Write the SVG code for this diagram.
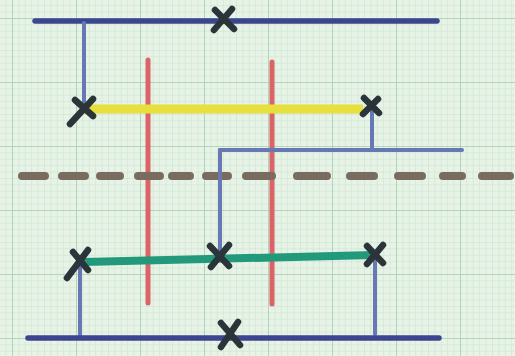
<svg xmlns="http://www.w3.org/2000/svg" width="515" height="356" viewBox="0 0 515 356">
<defs>
<pattern id="minor" patternUnits="userSpaceOnUse" x="12" y="18" width="6.4" height="6.4">
<path d="M0 0H6.4M0 0V6.4" fill="none" stroke="#c8e0ca" stroke-width="1"/>
</pattern>
<pattern id="major" patternUnits="userSpaceOnUse" x="12" y="18" width="64" height="64">
<path d="M0 0H64M0 0V64" fill="none" stroke="#a6d0b0" stroke-width="1.6"/>
</pattern>
</defs>
<style>
.bl{stroke:#3c4690;stroke-width:5.5;stroke-linecap:round;fill:none}
.bv{stroke:#6878b4;stroke-width:4;stroke-linecap:round;fill:none}
.red{stroke:#dc6468;stroke-width:5;stroke-linecap:round;fill:none}
.dash{stroke:#7a6b5f;stroke-width:8;stroke-linecap:round;fill:none}
.x{stroke:#2b3438;stroke-width:6.5;stroke-linecap:round;fill:none}
</style>
<rect width="515" height="356" fill="#e6f3e6"/>
<rect width="515" height="356" fill="url(#minor)"/>
<rect width="515" height="356" fill="url(#major)"/>
<g id="connectors">
<path class="red" d="M148 60V303"/>
<path class="red" d="M272 62V304"/>
<path class="dash" d="M22 176H45M62 176H85M100 176H120M138 176H160M172 176H190M206 176H228M246 176H272M297 176H327M350 176H374M398 176H422M443 176H462M482 176H510"/>
<path class="bl" d="M35 21H437"/>
<path class="bv" d="M84 23V108"/>
<path class="bv" d="M372 106V150"/>
<path class="bv" d="M220 150H462"/>
<path class="bv" d="M220 150V256"/>
<path d="M84 109H363" stroke="#e6df3c" stroke-width="9" fill="none"/>
<path d="M84 262L374 255" stroke="#21997a" stroke-width="8" fill="none"/>
<path class="bv" d="M80 262V335" stroke="#6d7894"/>
<path class="bv" d="M375 256V334"/>
<path class="bl" d="M28 338H439"/>
</g>
<g id="x-top"><path class="x" d="M215 10L234 29M232 9L214 30"/></g>
<g id="x-yellow-left"><path class="x" d="M75 100L93 116M93 99L70 124"/></g>
<g id="x-yellow-right"><path class="x" d="M364 98L379 113M378 99L363 114"/></g>
<g id="x-green-left"><path class="x" d="M73 252L88 270M88 250L67 278"/></g>
<g id="x-green-mid"><path class="x" d="M210 246L229 266M229 245L211 267"/></g>
<g id="x-green-right"><path class="x" d="M367 246L383 263M383 245L367 264"/></g>
<g id="x-bottom"><path class="x" d="M221 323L240 345M238 322L221 347"/></g>
</svg>
